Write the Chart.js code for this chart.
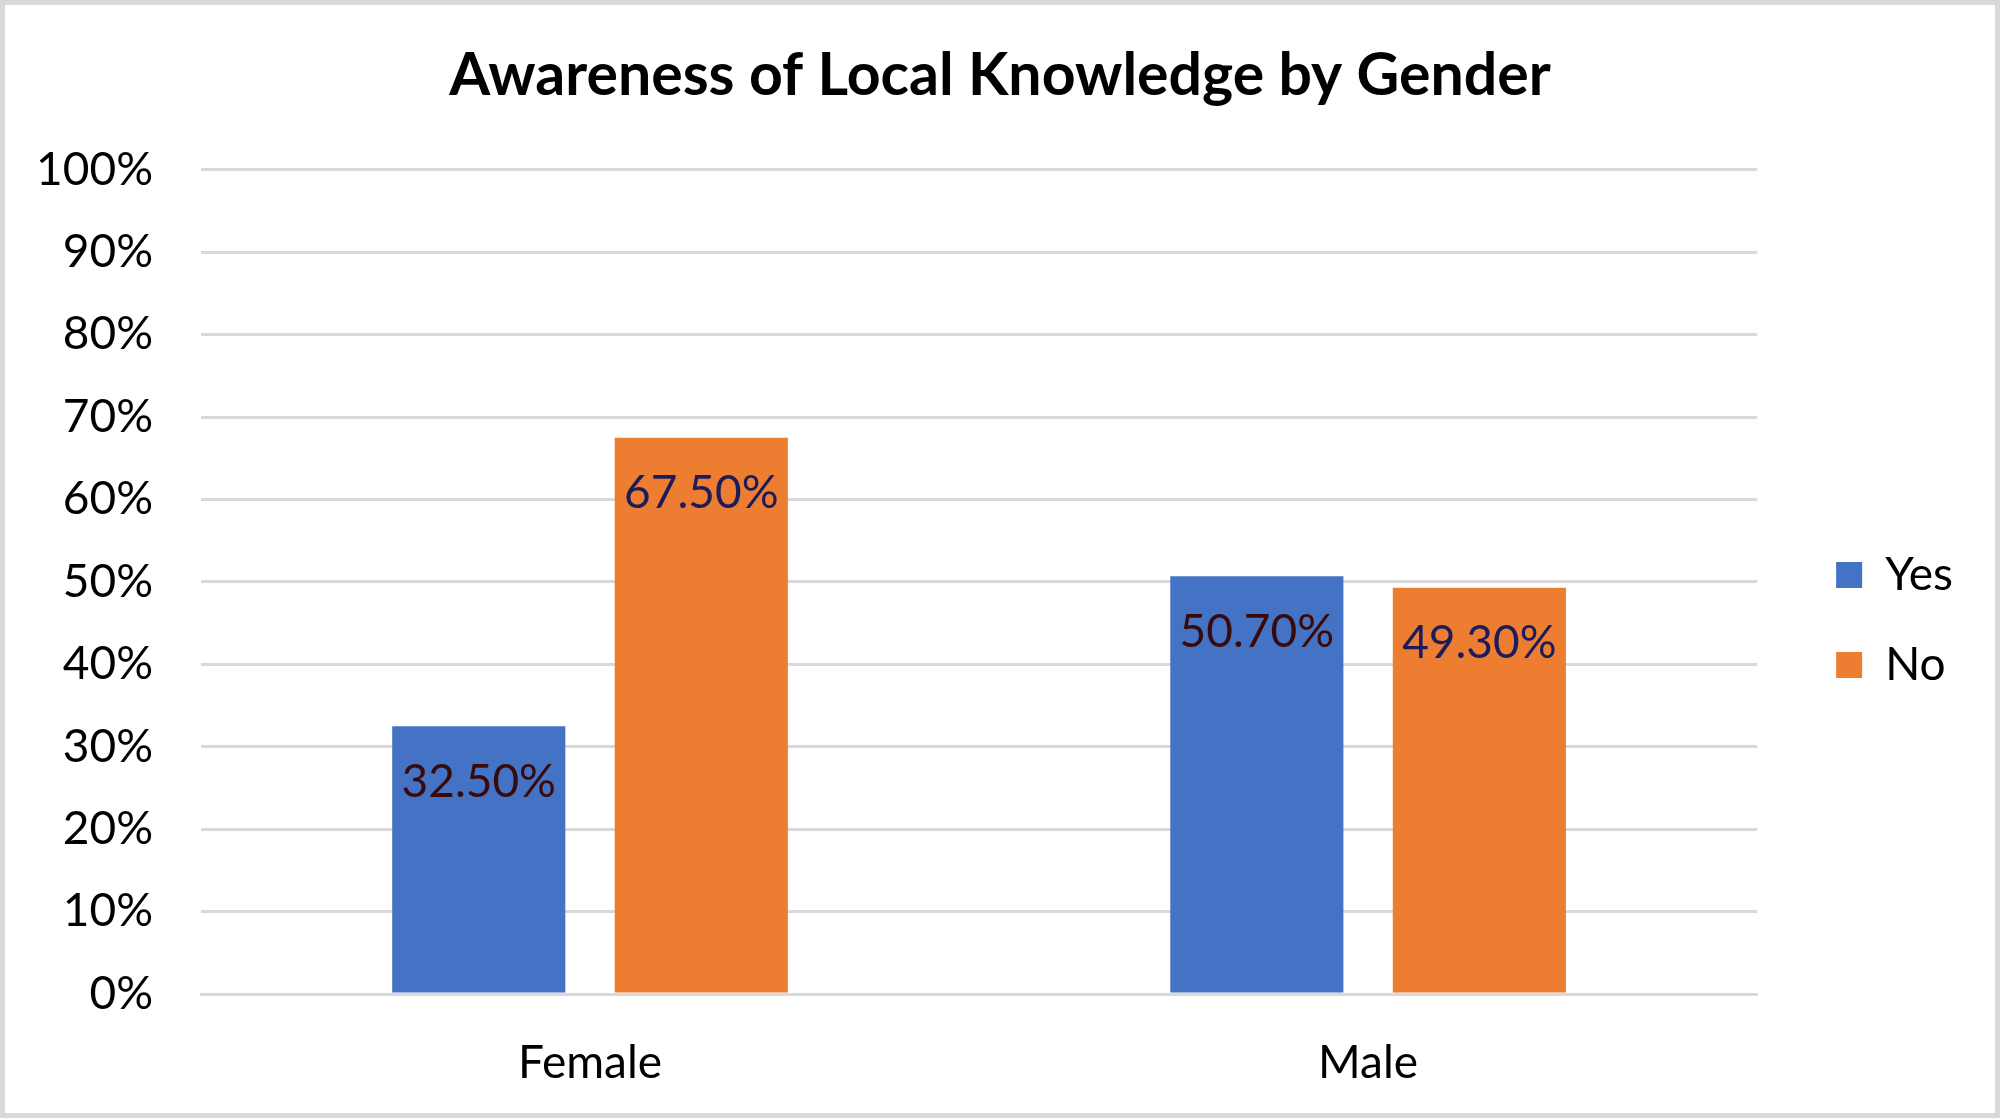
<!DOCTYPE html>
<html>
<head>
<meta charset="utf-8">
<script src="https://cdn.jsdelivr.net/npm/chart.js@4.4.1/dist/chart.umd.min.js"></script>
<style>
  html, body { margin: 0; padding: 0; background: #fff; }
  #frame {
    width: 2000px; height: 1118px; box-sizing: border-box;
    border: 5px solid #d9d9d9; background: #fff;
  }
  #box { position: relative; width: 1990px; height: 1108px; }
</style>
</head>
<body>
<div id="frame"><div id="box"><canvas id="chart"></canvas></div></div>
<script>
const categories = ['Female', 'Male'];
const yesValues = [32.5, 50.7];
const noValues = [67.5, 49.3];
const seriesNames = ['Yes', 'No'];
const yTicks = [0, 10, 20, 30, 40, 50, 60, 70, 80, 90, 100];

const FONT = 'Lato, "Open Sans", sans-serif';

// draws the value text near the top inside each bar
const barLabels = {
  id: 'barLabels',
  afterDatasetsDraw(chart) {
    const ctx = chart.ctx;
    ctx.save();
    ctx.font = '46px ' + FONT;
    ctx.textAlign = 'center';
    ctx.textBaseline = 'middle';
    chart.data.datasets.forEach((ds, i) => {
      const meta = chart.getDatasetMeta(i);
      meta.data.forEach((bar, j) => {
        ctx.fillStyle = ds.labelColor;
        ctx.fillText(ds.data[j].toFixed(2) + '%', bar.x, bar.y + 56);
      });
    });
    ctx.restore();
  }
};

const ctx = document.getElementById('chart').getContext('2d');
new Chart(ctx, {
  type: 'bar',
  data: {
    labels: categories,
    datasets: [
      { label: seriesNames[0], data: yesValues, backgroundColor: '#4472C4', labelColor: '#3a0a0a' },
      { label: seriesNames[1], data: noValues, backgroundColor: '#ED7D31', labelColor: '#1c1c5c' },
    ],
  },
  options: {
    responsive: true,
    maintainAspectRatio: false,
    animation: false,
    categoryPercentage: 0.572,
    barPercentage: 0.778,
    layout: { padding: { left: 32, right: 32, top: 0, bottom: 0 } },
    plugins: {
      title: {
        display: true,
        text: 'Awareness of Local Knowledge by Gender',
        color: '#000',
        font: { family: FONT, size: 59, weight: 'bold' },
        padding: { top: 36, bottom: 58 },
      },
      legend: {
        position: 'right',
        align: 'center',
        // blank title only pushes the entries down a little
        title: { display: true, text: ' ', font: { size: 10 }, padding: { top: 110, bottom: 0 } },
        labels: {
          color: '#000',
          font: { family: FONT, size: 46 },
          boxWidth: 26,
          boxHeight: 26,
          padding: 44,
        },
      },
      tooltip: { enabled: false },
    },
    scales: {
      x: {
        grid: { display: false, drawTicks: false },
        border: { display: true, color: '#d9d9d9', width: 3 },
        ticks: { color: '#000', font: { family: FONT, size: 46 }, padding: 42 },
        afterFit: (s) => { s.height = 119; },
      },
      y: {
        min: 0,
        max: 100,
        afterBuildTicks: (s) => { s.ticks = yTicks.map((v) => ({ value: v })); },
        grid: { color: '#d9d9d9', lineWidth: 3, drawTicks: false },
        border: { display: false },
        ticks: {
          color: '#000',
          font: { family: FONT, size: 46 },
          padding: 48,
          callback: (v) => v + '%',
        },
        afterFit: (s) => { s.width = 164; },
      },
      // empty axis used only as a spacer between the plot and the legend
      y2: {
        position: 'right',
        grid: { display: false, drawTicks: false },
        border: { display: false },
        ticks: { display: false },
        afterFit: (s) => { s.width = 35; },
      },
    },
  },
  plugins: [barLabels],
});
</script>
</body>
</html>
